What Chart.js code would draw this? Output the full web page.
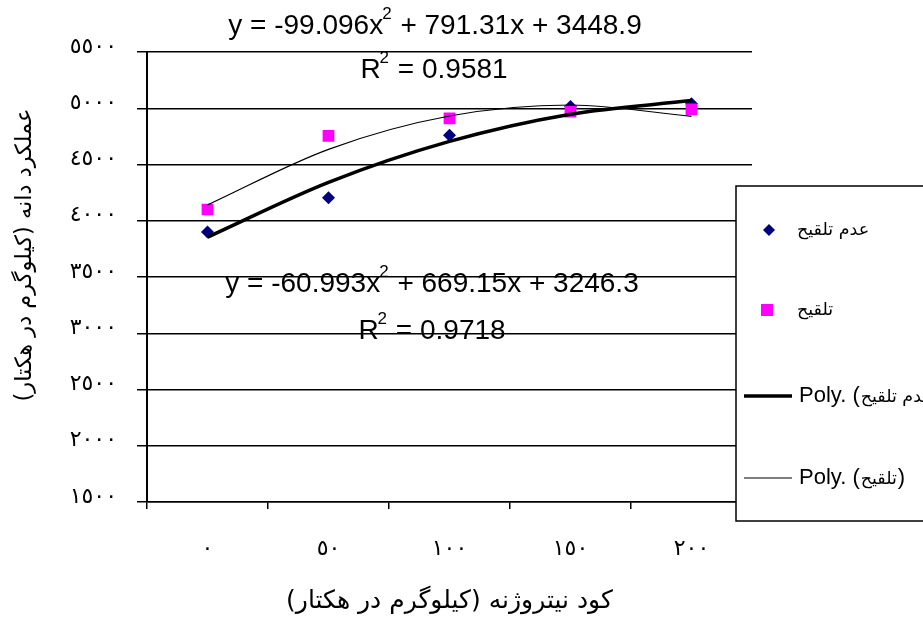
<!DOCTYPE html>
<html>
<head>
<meta charset="utf-8">
<script src="https://cdn.jsdelivr.net/npm/chart.js@4.4.1/dist/chart.umd.min.js"></script>
<style>
body{margin:0;background:#fff;}
#wrap{width:923px;height:644px;position:relative;overflow:hidden;}
canvas{direction:rtl;}
</style>
</head>
<body>
<div id="wrap"><canvas id="c"></canvas></div>
<script>
// categories and tick labels (Arabic-Indic digits as in the picture)
var categories=['٠','٥٠','١٠٠','١٥٠','٢٠٠'];
var yTickLabels=['١٥٠٠','٢٠٠٠','٢٥٠٠','٣٠٠٠','٣٥٠٠','٤٠٠٠','٤٥٠٠','٥٠٠٠','٥٥٠٠'];

// measured points
var noInoc=[3900,4205,4760,5015,5040];
var inoc=[4100,4755,4910,4970,4990];

// trend lines as read at each category
var polyNoInoc=[3854,4341,4705,4947,5068];
var polyInoc=[4141,4635,4931,5029,4928];

var nameNoInoc='عدم تلقیح';
var nameInoc='تلقیح';
var namePolyNoInoc='Poly. (عدم تلقیح)';
var namePolyInoc='Poly. (تلقیح)';

var eqInoc=['y = -99.096x','2',' + 791.31x + 3448.9'];
var r2Inoc=['R','2',' = 0.9581'];
var eqNoInoc=['y = -60.993x','2',' + 669.15x + 3246.3'];
var r2NoInoc=['R','2',' = 0.9718'];

var xTitle='کود نیتروژنه (کیلوگرم در هکتار)';
var yTitle='عملکرد دانه (کیلوگرم در هکتار)';

var latin='"Liberation Sans", Arial, "DejaVu Sans", sans-serif';
var arab='"DejaVu Sans", sans-serif';

function supText(ctx,cx,cy,parts,size){
  var big=size+'px '+latin, small=Math.round(size*0.6)+'px '+latin;
  ctx.font=big; var w0=ctx.measureText(parts[0]).width, w2=ctx.measureText(parts[2]).width;
  ctx.font=small; var w1=ctx.measureText(parts[1]).width;
  var x=cx-(w0+w1+w2)/2;
  ctx.textAlign='left'; ctx.textBaseline='middle';
  ctx.font=big; ctx.fillText(parts[0],x,cy);
  ctx.font=small; ctx.fillText(parts[1],x+w0-1,cy-size*0.42);
  ctx.font=big; ctx.fillText(parts[2],x+w0+w1,cy);
}

// "Poly. (name)" with the Latin part larger than the Arabic part, as in the picture
function polyLabel(ctx,x,y,name){
  ctx.textBaseline='middle';
  ctx.direction='ltr'; ctx.textAlign='left';
  ctx.font='22px '+latin;
  var pre='Poly. (';
  ctx.fillText(pre,x,y);
  x+=ctx.measureText(pre).width+1;
  ctx.font='17.5px '+arab;
  ctx.direction='rtl'; ctx.textAlign='right';
  var w=ctx.measureText(name).width;
  ctx.fillText(name,x+w,y+1);
  x+=w+1;
  ctx.direction='ltr'; ctx.textAlign='left';
  ctx.font='22px '+latin;
  ctx.fillText(')',x,y);
}

var extras={
  id:'extras',
  afterDraw:function(chart){
    var ctx=chart.ctx;
    ctx.save();
    ctx.fillStyle='#000';
    ctx.direction='ltr';
    supText(ctx,435,26,eqInoc,28);
    supText(ctx,434,70,r2Inoc,28);
    supText(ctx,432,284,eqNoInoc,28);
    supText(ctx,432,331,r2NoInoc,28);

    // y axis title
    ctx.save();
    ctx.translate(25,255);
    ctx.rotate(-Math.PI/2);
    ctx.direction='rtl';
    ctx.textAlign='center'; ctx.textBaseline='middle';
    ctx.font='22.5px '+arab;
    ctx.fillText(yTitle,0,0);
    ctx.restore();

    // legend box
    ctx.fillStyle='#fff';
    ctx.strokeStyle='#000';
    ctx.lineWidth=1.5;
    ctx.fillRect(736,186,200,335);
    ctx.strokeRect(736,186,200,335);

    ctx.fillStyle='#000080';
    ctx.beginPath();
    ctx.moveTo(769,224);ctx.lineTo(775,230);ctx.lineTo(769,236);ctx.lineTo(763,230);ctx.closePath();
    ctx.fill();
    ctx.fillStyle='#ff00ff';
    ctx.fillRect(761,304,12,12);

    ctx.strokeStyle='#000';
    ctx.lineWidth=3.5;
    ctx.beginPath();ctx.moveTo(744,396);ctx.lineTo(792,396);ctx.stroke();
    ctx.lineWidth=1.2;
    ctx.beginPath();ctx.moveTo(744,478);ctx.lineTo(792,478);ctx.stroke();

    ctx.fillStyle='#000';
    ctx.textBaseline='middle';
    ctx.font='17.5px '+arab;
    ctx.direction='rtl';
    ctx.textAlign='right';
    var w=ctx.measureText(nameNoInoc).width;
    ctx.fillText(nameNoInoc,797+w,230);
    w=ctx.measureText(nameInoc).width;
    ctx.fillText(nameInoc,797+w,310);
    polyLabel(ctx,799,396,nameNoInoc);
    polyLabel(ctx,799,478,nameInoc);
    ctx.restore();
  }
};

new Chart(document.getElementById('c'),{
  type:'line',
  data:{
    labels:categories,
    datasets:[
      {label:namePolyNoInoc,data:polyNoInoc,borderColor:'#000',borderWidth:3.5,pointRadius:0,cubicInterpolationMode:'monotone',fill:false},
      {label:namePolyInoc,data:polyInoc,borderColor:'#000',borderWidth:1.2,pointRadius:0,cubicInterpolationMode:'monotone',fill:false},
      {label:nameInoc,data:inoc,showLine:false,pointStyle:'rect',pointRadius:8.3,pointBackgroundColor:'#ff00ff',pointBorderWidth:0,borderColor:'#ff00ff'},
      {label:nameNoInoc,data:noInoc,showLine:false,pointStyle:'rectRot',pointRadius:6.5,pointBackgroundColor:'#000080',pointBorderWidth:0,borderColor:'#000080'}
    ]
  },
  options:{
    responsive:true,
    maintainAspectRatio:false,
    animation:false,
    layout:{padding:{top:52,right:171,bottom:0,left:0}},
    plugins:{legend:{display:false},tooltip:{enabled:false}},
    scales:{
      x:{
        type:'category',
        offset:true,
        afterFit:function(s){s.height=142;},
        grid:{offset:true,drawOnChartArea:false,drawTicks:true,tickLength:7,color:'#000',lineWidth:1.5},
        border:{display:true,color:'#000',width:1.5},
        ticks:{color:'#000',padding:27,maxRotation:0,font:{family:arab,size:22}},
        title:{display:true,text:xTitle,color:'#000',font:{family:arab,size:25},padding:{top:0,bottom:28}}
      },
      y:{
        type:'linear',
        min:1500,max:5500,
        afterFit:function(s){s.width=147;},
        grid:{color:'#000',lineWidth:1.5,tickLength:10},
        border:{display:true,color:'#000',width:2},
        ticks:{stepSize:500,color:'#000',padding:20,labelOffset:-5,font:{family:arab,size:22},
          callback:function(v,i){return yTickLabels[i];}}
      }
    }
  },
  plugins:[extras]
});
</script>
</body>
</html>
